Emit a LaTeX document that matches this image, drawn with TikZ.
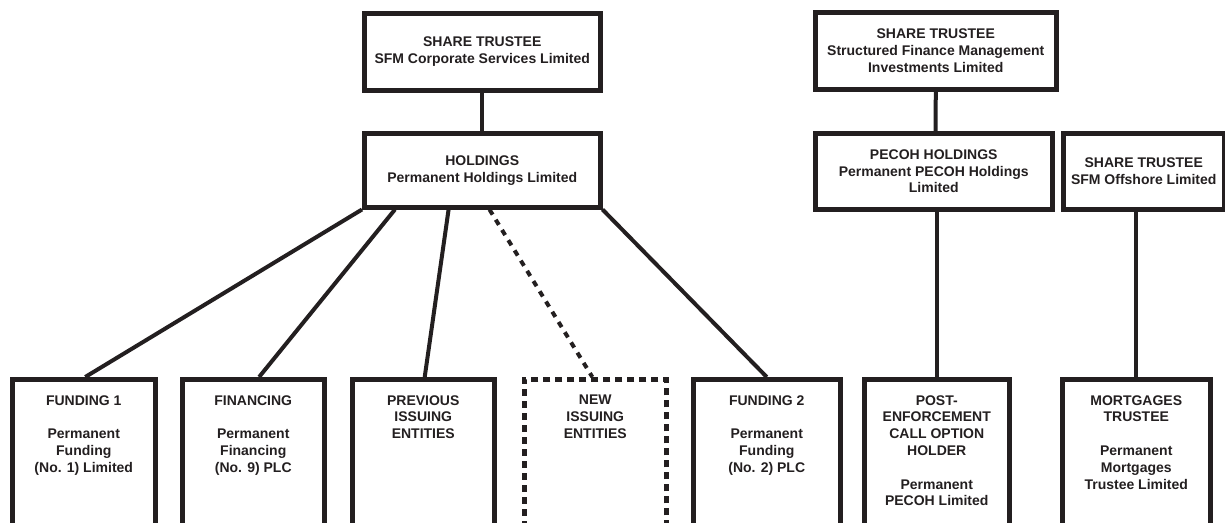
\documentclass[tikz,border=0pt]{standalone}
\usepackage{fontspec}
\setmainfont{Liberation Sans}
\usetikzlibrary{calc}
\definecolor{ink}{RGB}{35,31,32}
\tikzset{
  box/.style={draw=ink, line width=4.5pt, rectangle, inner sep=0pt, align=center,
    text=ink, font=\fontsize{14}{16.8}\selectfont\bfseries, anchor=north west},
  lowbox/.style={box},
  dashbox/.style={box, dash pattern=on 7pt off 5pt},
  link/.style={draw=ink, line width=4pt},
  dlink/.style={link, dash pattern=on 6pt off 6pt}
}
\newcommand{\lowtext}[2]{\parbox[b][210pt][t]{#1}{\centering\vspace*{16pt}#2}}
\begin{document}
\begin{tikzpicture}[x=1pt,y=-1pt]
\useasboundingbox (0,0) rectangle (1225,522);
\clip (0,0) rectangle (1225,522);
% top row
\node[box, minimum width=236pt, minimum height=77pt] (st1) at (362,11) {SHARE TRUSTEE\\SFM Corporate Services Limited};
\node[box, minimum width=236pt, minimum height=74pt] (hold) at (362,131) {HOLDINGS\\Permanent Holdings Limited};
\node[box, minimum width=241pt, minimum height=77pt] (st2) at (813,10) {SHARE TRUSTEE\\Structured Finance Management\\Investments Limited};
\node[box, minimum width=237pt, minimum height=76pt] (pecoh) at (813,131) {PECOH HOLDINGS\\Permanent PECOH Holdings\\Limited};
\node[box, minimum width=161pt, minimum height=76pt] (st3) at (1061,131) {SHARE TRUSTEE\\SFM Offshore Limited};
% bottom row
\node[lowbox] (f1) at (10,377) {\lowtext{143pt}{FUNDING 1\\[16.8pt]Permanent\\Funding\\(No. 1) Limited}};
\node[lowbox] (fin) at (180,377) {\lowtext{142pt}{FINANCING\\[16.8pt]Permanent\\Financing\\(No. 9) PLC}};
\node[lowbox] (prev) at (350,377) {\lowtext{142pt}{PREVIOUS\\ISSUING\\ENTITIES}};
\node[dashbox] (new) at (522,377) {\lowtext{142pt}{NEW\\ISSUING\\ENTITIES}};
\node[lowbox] (f2) at (691,377) {\lowtext{147pt}{FUNDING 2\\[16.8pt]Permanent\\Funding\\(No. 2) PLC}};
\node[lowbox] (post) at (862,377) {\lowtext{145pt}{POST-\\ENFORCEMENT\\CALL OPTION\\HOLDER\\[16.8pt]Permanent\\PECOH Limited}};
\node[lowbox] (mort) at (1060,377) {\lowtext{148pt}{MORTGAGES\\TRUSTEE\\[16.8pt]Permanent\\Mortgages\\Trustee Limited}};
% connectors
\draw[link] (st1.south) -- (hold.north);
\draw[link] (hold.south west) -- ($(f1.north west)!0.51!(f1.north east)$);
\draw[link] ($(hold.south west)!0.137!(hold.south east)$) -- ($(fin.north west)!0.54!(fin.north east)$);
\draw[link] ($(hold.south west)!0.36!(hold.south east)$) -- ($(prev.north west)!0.51!(prev.north east)$);
\draw[dlink] ($(hold.south west)!0.53!(hold.south east)$) -- ($(new.north west)!0.48!(new.north east)$);
\draw[link] (hold.south east) -- ($(f2.north west)!0.50!(f2.north east)$);
\draw[link] ($(st2.south west)!0.50!(st2.south east)$) -- ($(pecoh.north west)!0.508!(pecoh.north east)$);
\draw[link] (post.north) -- (post.north |- pecoh.south);
\draw[link] (mort.north) -- (mort.north |- st3.south);
\end{tikzpicture}
\end{document}
